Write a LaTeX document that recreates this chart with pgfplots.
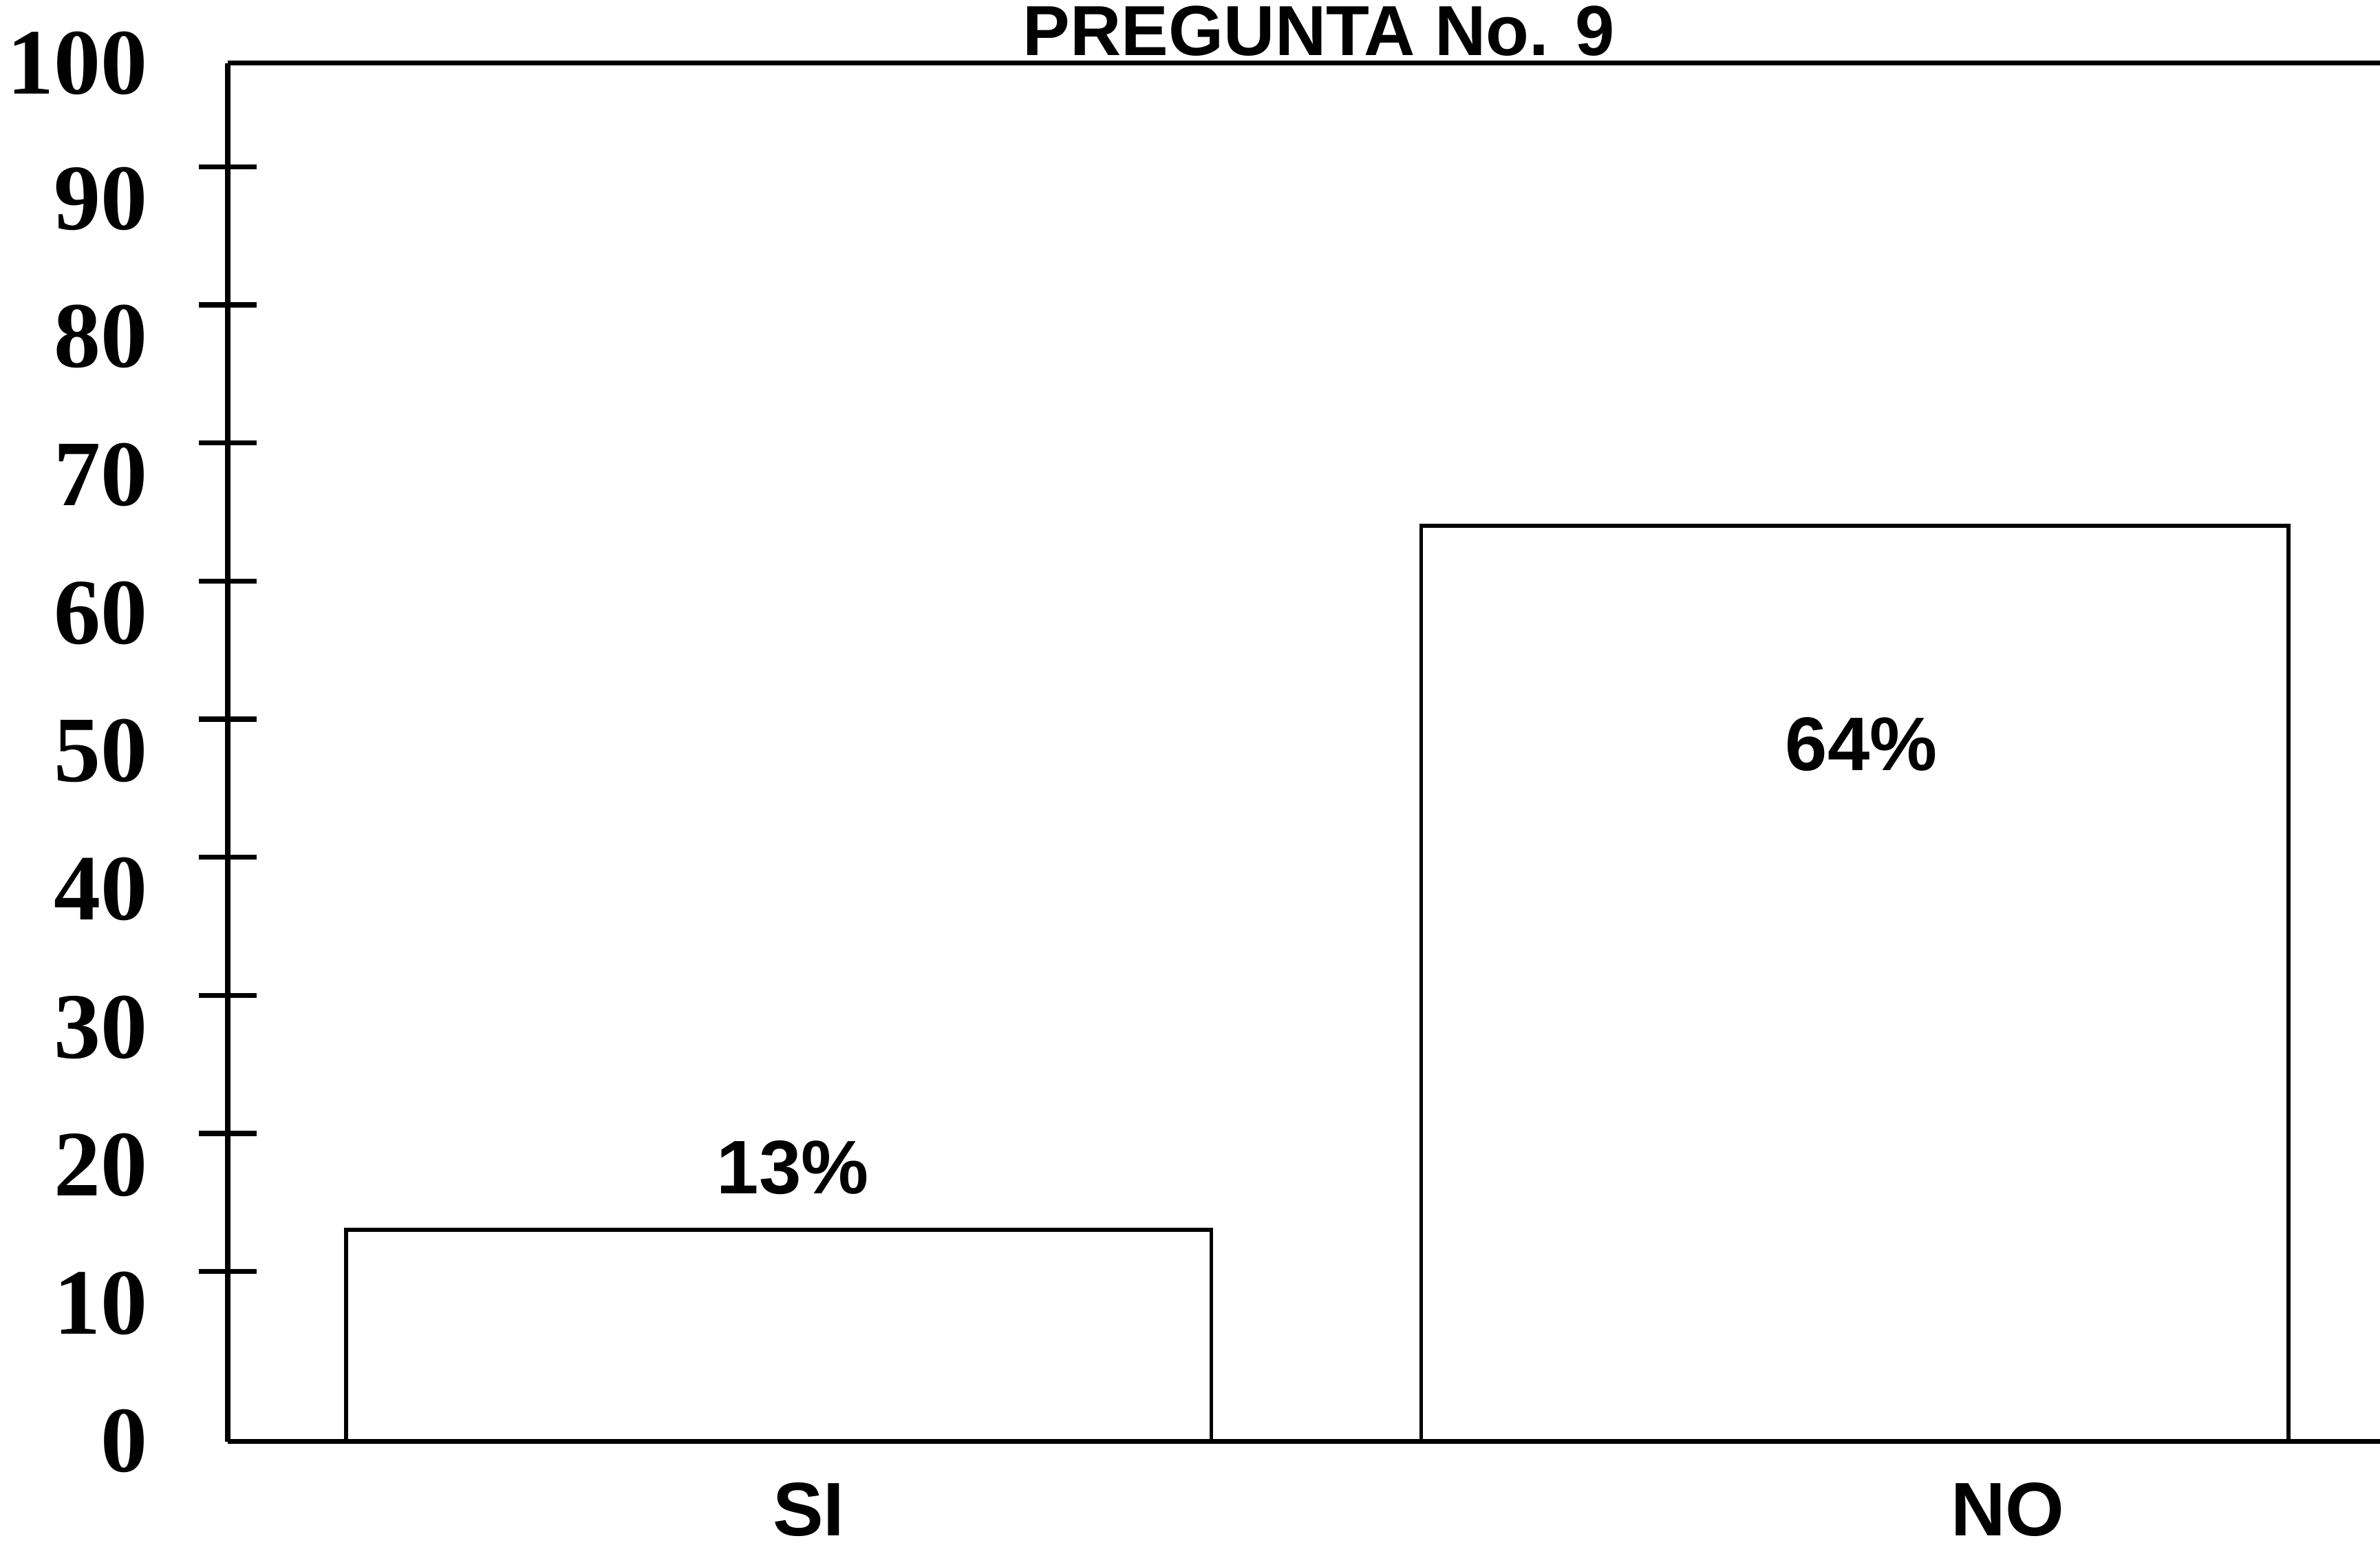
\documentclass[border=0pt]{standalone}
\usepackage{fontspec}
\setmainfont{Liberation Sans}
\newfontfamily\tnr{Liberation Serif}
\usepackage{pgfplots}
\pgfplotsset{compat=1.18}
\begin{document}
\begin{tikzpicture}
\begin{axis}[
  scale only axis,
  width=425.4pt, height=272.4pt,
  xmin=-0.512, xmax=1.488,
  ymin=-2.32, ymax=97.52,
  axis x line*=box, axis y line*=left,
  axis line style={line width=1.0pt},
  clip=false,
  xtick={0.028,1.142}, xticklabels={SI,NO},
  xtick style={draw=none},
  xticklabel style={font=\fontsize{15}{15}\selectfont\bfseries, anchor=base, yshift=-12.9pt},
  ytick={10,20,30,40,50,60,70,80,90},
  yticklabels={},
  tick align=center,
  major tick length=11.4pt,
  tick style={black, line width=1.0pt},
  yticklabel style={font=\tnr\fontsize{18.5}{18.5}\selectfont\bfseries, anchor=east, inner sep=0pt, xshift=-9.9pt},
  extra y ticks={-2.3,7.7,17.7,27.7,37.7,47.7,57.7,67.7,77.7,87.7,97.5},
  extra y tick labels={0,10,20,30,40,50,60,70,80,90,100},
  extra y tick style={tick style={draw=none}},
]
% SI bar
\addplot[black, line width=0.8pt] coordinates {(-0.402,-2.32) (-0.402,13) (0.402,13) (0.402,-2.32)};
% NO bar
\addplot[black, line width=0.8pt] coordinates {(0.597,-2.32) (0.597,64) (1.403,64) (1.403,-2.32)};
\node[font=\fontsize{15}{15}\selectfont\bfseries] at (axis cs:0.013,17.5) {13\%};
\node[font=\fontsize{15}{15}\selectfont\bfseries] at (axis cs:1.006,48.2) {64\%};
\node[font=\fontsize{14}{14}\selectfont\bfseries, anchor=base] at (axis cs:0.502,98.08) {PREGUNTA No. 9};
\coordinate (bbA) at (axis cs:-0.7236,-9.78);
\coordinate (bbB) at (axis cs:1.488,102.09);
\end{axis}
\pgfresetboundingbox
\useasboundingbox (bbA) rectangle (bbB);
\end{tikzpicture}
\end{document}
